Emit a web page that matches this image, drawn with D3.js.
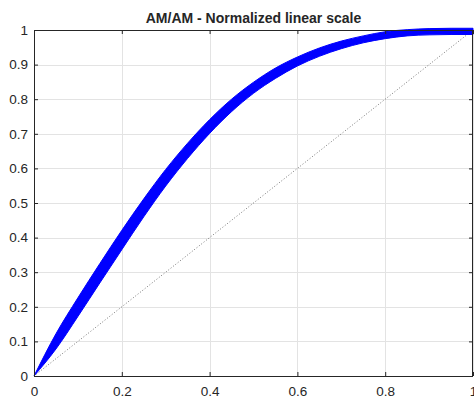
<!DOCTYPE html>
<html>
<head>
<meta charset="utf-8">
<script src="https://cdn.jsdelivr.net/npm/d3@7"></script>
<style>
  html, body { margin: 0; padding: 0; background: #fff; }
  svg { display: block; }
  text { font-family: "Liberation Sans", Arial, Helvetica, sans-serif; fill: #262626; }
</style>
</head>
<body>
<svg id="chart" width="474" height="399"></svg>
<script>
// Normalized input amplitude samples
const inputAmp = [0, 0.05, 0.1, 0.15, 0.2, 0.25, 0.3, 0.35, 0.4, 0.45, 0.5,
                  0.55, 0.6, 0.65, 0.7, 0.75, 0.8, 0.85, 0.9, 0.95, 1.0];
// Normalized output amplitude (centre of the scatter cloud)
const outputAmp = [0, 0.100, 0.199, 0.297, 0.393, 0.486, 0.573, 0.651, 0.721, 0.782, 0.833,
                   0.875, 0.909, 0.936, 0.957, 0.973, 0.985, 0.992, 0.995, 0.996, 0.996];
// Half spread of the output scatter at each input sample
const outputSpread = [0, 0.022, 0.027, 0.028, 0.028, 0.026, 0.024, 0.022, 0.020, 0.018, 0.016,
                      0.015, 0.013, 0.012, 0.011, 0.010, 0.010, 0.009, 0.009, 0.009, 0.009];
// Linear reference line
const refLine = [[0, 0], [1, 1]];

const xTicks = [0, 0.2, 0.4, 0.6, 0.8, 1];
const yTicks = [0, 0.1, 0.2, 0.3, 0.4, 0.5, 0.6, 0.7, 0.8, 0.9, 1];
const titleText = "AM/AM - Normalized linear scale";

const svg = d3.select("#chart");
const plotL = 34, plotR = 473, plotT = 30, plotB = 376;

const x = d3.scaleLinear().domain([0, 1]).range([plotL, plotR]);
const y = d3.scaleLinear().domain([0, 1]).range([plotB, plotT]);

// grid
const grid = svg.append("g").attr("stroke", "#e3e3e3").attr("stroke-width", 1);
grid.selectAll(".gx").data(xTicks).join("line")
  .attr("x1", d => Math.round(x(d)) + 0.5).attr("x2", d => Math.round(x(d)) + 0.5)
  .attr("y1", plotT).attr("y2", plotB);
grid.selectAll(".gy").data(yTicks).join("line")
  .attr("y1", d => Math.round(y(d)) + 0.5).attr("y2", d => Math.round(y(d)) + 0.5)
  .attr("x1", plotL).attr("x2", plotR);

// linear reference (dotted)
svg.append("path")
  .datum(refLine)
  .attr("d", d3.line().x(d => x(d[0])).y(d => y(d[1])))
  .attr("fill", "none")
  .attr("stroke", "#555")
  .attr("stroke-width", 0.8)
  .attr("stroke-dasharray", "1,2");

// AM/AM scatter band
const band = inputAmp.map((v, i) => ({ xin: v, yout: outputAmp[i], s: outputSpread[i] }));
svg.append("path")
  .datum(band)
  .attr("d", d3.area()
    .curve(d3.curveMonotoneX)
    .x(d => x(d.xin))
    .y0(d => y(d.yout - d.s))
    .y1(d => y(d.yout + d.s)))
  .attr("fill", "#0000ff")
  .attr("stroke", "#0000ff")
  .attr("stroke-width", 1)
  .attr("stroke-linejoin", "round");

// axes with inward ticks on all four sides
const tickLen = 4;
const axisColor = "#262626";
function styleAxis(g) {
  g.select(".domain").remove();
  g.selectAll(".tick line").attr("stroke", axisColor);
  g.selectAll(".tick text").attr("fill", "#262626").style("font-size", "13.5px")
    .style("font-family", "'Liberation Sans', Arial, sans-serif");
}
svg.append("g").attr("transform", `translate(0,${plotB})`)
  .call(d3.axisBottom(x).tickValues(xTicks).tickSizeInner(-tickLen).tickSizeOuter(0).tickPadding(10)
    .tickFormat(d3.format("")))
  .call(styleAxis);
svg.append("g").attr("transform", `translate(0,${plotT})`)
  .call(d3.axisTop(x).tickValues(xTicks).tickSizeInner(-tickLen).tickSizeOuter(0).tickFormat(""))
  .call(styleAxis);
svg.append("g").attr("transform", `translate(${plotL},0)`)
  .call(d3.axisLeft(y).tickValues(yTicks).tickSizeInner(-tickLen).tickSizeOuter(0).tickPadding(6)
    .tickFormat(d3.format("")))
  .call(styleAxis);
svg.append("g").attr("transform", `translate(${plotR},0)`)
  .call(d3.axisRight(y).tickValues(yTicks).tickSizeInner(-tickLen).tickSizeOuter(0).tickFormat(""))
  .call(styleAxis);

// axes box
svg.append("rect")
  .attr("x", plotL + 0.5).attr("y", plotT + 0.5)
  .attr("width", plotR - plotL - 1).attr("height", plotB - plotT)
  .attr("fill", "none").attr("stroke", axisColor).attr("stroke-width", 1);

// title
svg.append("text")
  .attr("x", (plotL + plotR) / 2).attr("y", 22.5)
  .attr("text-anchor", "middle")
  .style("font-size", "14px").style("font-weight", "bold")
  .attr("fill", "#000")
  .text(titleText);
</script>
</body>
</html>
